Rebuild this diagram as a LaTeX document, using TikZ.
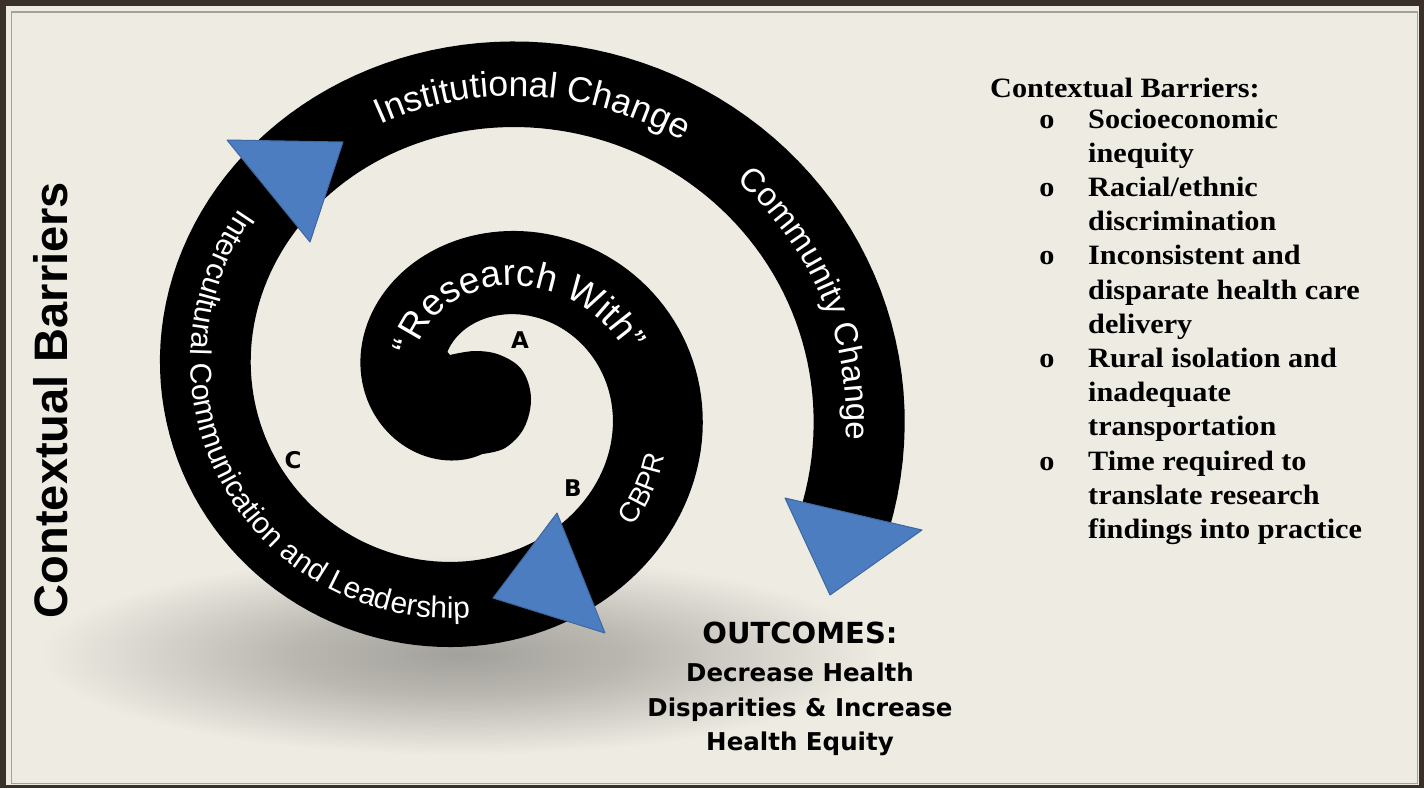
\documentclass[tikz,border=0pt]{standalone}
\usepackage{fontspec}
\setmainfont{Liberation Sans}
\setsansfont{Liberation Sans}
\newfontfamily\dvsans{DejaVu Sans}
\newfontfamily\lserifw{Liberation Serif}[FakeStretch=1.08]
\usetikzlibrary{decorations.text}
\definecolor{framec}{HTML}{3A302A}
\definecolor{bgc}{HTML}{EDEBE2}
\definecolor{shadowc}{HTML}{A3A19B}
\definecolor{triblue}{HTML}{4B7DC0}
\definecolor{triedge}{HTML}{3E679F}
\definecolor{panelline}{HTML}{A3A19C}
% elliptical Archimedean spiral: angle #1 (deg, clockwise on screen), radial offset #2
\newcommand{\SpX}[2]{481.75+1.063*(162.75+0.5306*(#1)+(#2))*cos(#1)}
\newcommand{\SpY}[2]{391.75+(162.75+0.5306*(#1)+(#2))*sin(#1)}
\pgfdeclareradialshading{shadowsh}{\pgfpoint{0bp}{0bp}}{color(0bp)=(shadowc); color(10bp)=(shadowc!70!bgc); color(25bp)=(bgc); color(50bp)=(bgc)}
\begin{document}
\begin{tikzpicture}[x=1pt,y=-1pt,
  tri/.style={fill=triblue,draw=triedge,line width=1pt,line join=round},
  listtxt/.style={anchor=base west,inner sep=0pt,font=\lserifw\bfseries\fontsize{28}{34}\selectfont},
  bul/.style={anchor=base,inner sep=0pt,font=\lserifw\bfseries\fontsize{28}{34}\selectfont},
  outc/.style={anchor=base,inner sep=0pt,font=\dvsans\bfseries\fontsize{24.5}{30}\selectfont},
  abc/.style={inner sep=0pt,font=\dvsans\bfseries\fontsize{23}{26}\selectfont}]
\useasboundingbox (0,0) rectangle (1424,788);
% frame and panel
\fill[framec] (0,0) rectangle (1424,788);
\fill[bgc] (6,6) rectangle (1419,785);
\draw[panelline,line width=1.5pt] (11.5,12) rectangle (1417.5,783.5);
% soft shadow under the spiral
\shade[shading=shadowsh] (460,655) ellipse [x radius=420, y radius=100];
% the spiral band
\fill[black]
  plot[domain=380:-270,samples=260,variable=\q] ({\SpX{\q}{43}},{\SpY{\q}{43}})
  -- plot[smooth,tension=0.6] coordinates {(482,454) (505,448) (524,428) (531,398) (522,370) (500,355) (475,351) (450,355)}
  -- plot[domain=-129:380,samples=260,variable=\q] ({\SpX{\q}{-43}},{\SpY{\q}{-43}})
  -- cycle;
% texts along the spiral
\path[decorate,decoration={text along path,text align=center,
   text={|\sffamily\fontsize{35.5}{40}\selectfont\color{white}|Institutional Change}}]
   plot[domain=238:318,samples=120,variable=\q] ({\SpX{\q}{-12}},{\SpY{\q}{-12}});
\path[decorate,decoration={text along path,text align=center,
   text={|\sffamily\fontsize{33}{38}\selectfont\color{white}|Community Change}}]
   plot[domain=307:379,samples=120,variable=\q] ({\SpX{\q}{-12}},{\SpY{\q}{-12}});
\path[decorate,decoration={text along path,text align=center,
   text={|\sffamily\fontsize{37}{42}\selectfont\color{white}|“Research With”}}]
   plot[domain=-181:-1,samples=160,variable=\q] ({\SpX{\q}{-13}},{\SpY{\q}{-13}});
\path[decorate,decoration={text along path,text align=center,
   text={|\sffamily\fontsize{30}{34}\selectfont\color{white}|Intercultural Communication and Leadership}}]
   plot[domain=231:77,samples=160,variable=\q] ({\SpX{\q}{14}},{\SpY{\q}{14}});
\path[decorate,decoration={text along path,text align=center,
   text={|\sffamily\fontsize{28}{34}\selectfont\color{white}|CBPR}}]
   plot[domain=58:4,samples=80,variable=\q] ({\SpX{\q}{10}},{\SpY{\q}{10}});
% arrow heads
\draw[tri] (227,140) -- (343,142) -- (310,242) -- cycle;
\draw[tri] (557,513) -- (605,633) -- (493,598) -- cycle;
\draw[tri] (785,498) -- (922,530) -- (830,595) -- cycle;
% letters
\node[abc] (lA) at (520,340) {A};
\node[abc] (lB) at (573,488) {B};
\node[abc] (lC) at (293,460) {C};
% vertical title
\node[inner sep=0pt,rotate=90,font=\sffamily\bfseries\fontsize{47}{52}\selectfont] (vtitle) at (51,400) {Contextual Barriers};
% outcomes
\node[anchor=base,inner sep=0pt,font=\dvsans\bfseries\fontsize{29}{34}\selectfont] (out0) at (800,643.5) {OUTCOMES:};
\node[outc] (out1) at (800,681) {Decrease Health};
\node[outc] (out2) at (800,716.5) {Disparities \& Increase};
\node[outc] (out3) at (800,750) {Health Equity};
% contextual barriers list
\node[listtxt] (cbt) at (990,97) {Contextual Barriers:};
\node[bul] (b1) at (1047,128) {o};
\node[bul] (b2) at (1047,196.4) {o};
\node[bul] (b3) at (1047,264.8) {o};
\node[bul] (b4) at (1047,367.4) {o};
\node[bul] (b5) at (1047,470) {o};
\node[listtxt] (l1) at (1088,128) {Socioeconomic};
\node[listtxt] (l2) at (1088,162.2) {inequity};
\node[listtxt] (l3) at (1088,196.4) {Racial/ethnic};
\node[listtxt] (l4) at (1088,230.6) {discrimination};
\node[listtxt] (l5) at (1088,264.8) {Inconsistent and};
\node[listtxt] (l6) at (1088,299) {disparate health care};
\node[listtxt] (l7) at (1088,333.2) {delivery};
\node[listtxt] (l8) at (1088,367.4) {Rural isolation and};
\node[listtxt] (l9) at (1088,401.6) {inadequate};
\node[listtxt] (l10) at (1088,435.8) {transportation};
\node[listtxt] (l11) at (1088,470) {Time required to};
\node[listtxt] (l12) at (1088,504.2) {translate research};
\node[listtxt] (l13) at (1088,538.4) {findings into practice};
\end{tikzpicture}
\end{document}
